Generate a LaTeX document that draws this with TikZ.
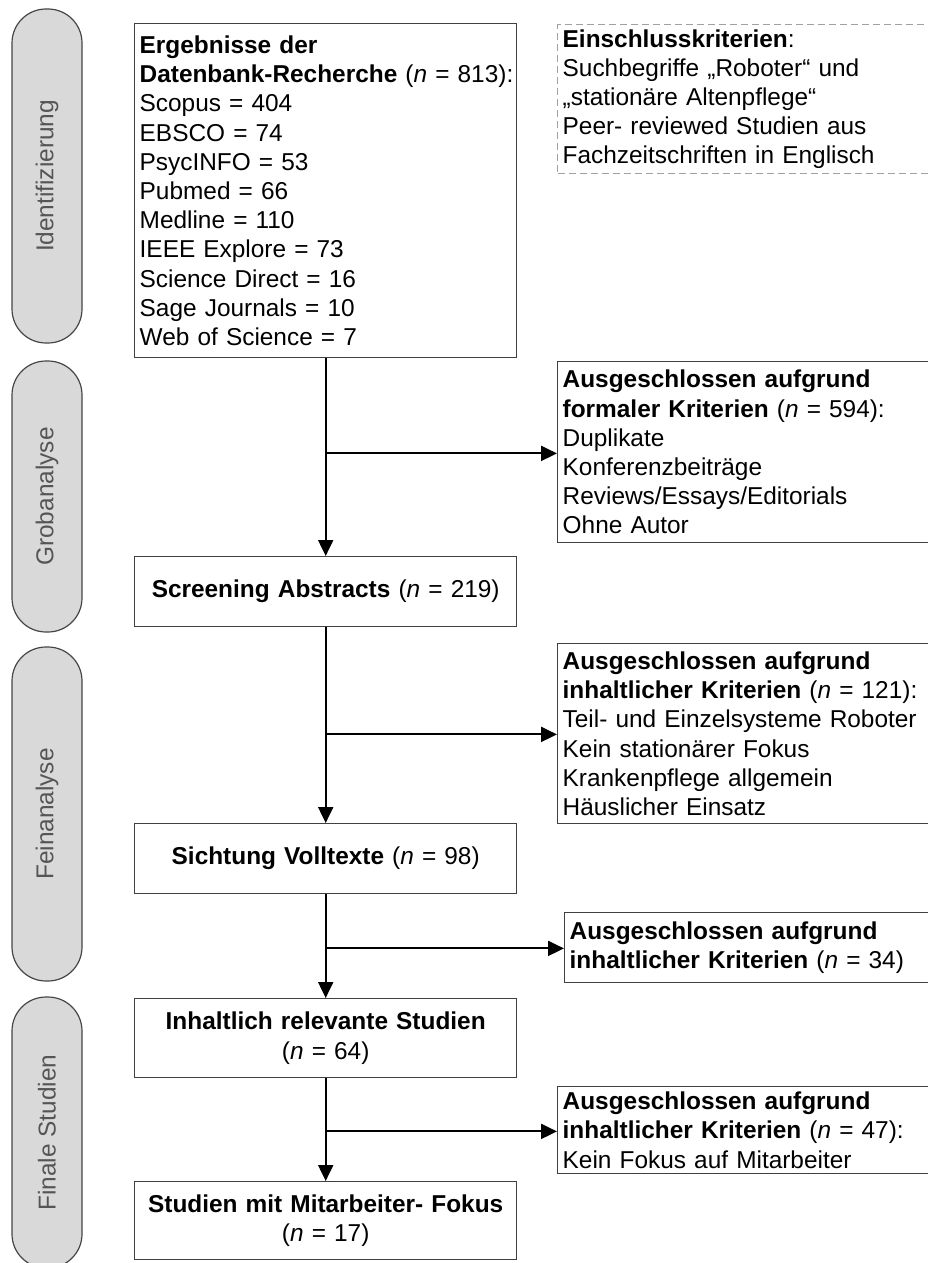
\documentclass[tikz,border=0pt]{standalone}
\usepackage{fontspec}
\setmainfont{Liberation Sans}
\usetikzlibrary{arrows.meta}
\definecolor{boxline}{RGB}{64,64,64}
\definecolor{pillfill}{RGB}{217,217,217}
\definecolor{pillline}{RGB}{70,70,70}
\definecolor{pilltext}{RGB}{85,85,85}
\definecolor{dashline}{RGB}{160,160,160}
\begin{document}
\begin{tikzpicture}[x=1pt,y=-1pt,
  font=\fontsize{24.4}{29.2}\selectfont,
  box/.style={draw=boxline, line width=1.4pt, rectangle, anchor=north west,
    inner xsep=5pt, inner ysep=0pt, align=left},
  lbox/.style={box, text width=372pt},
  rbox/.style={box, text width=368pt},
  pill/.style={draw=pillline, fill=pillfill, line width=1.2pt, rounded corners=34pt,
    minimum width=70pt, inner sep=0pt},
  plabel/.style={rotate=90, text=pilltext, inner sep=0pt},
  arr/.style={line width=2pt, -{Triangle[length=16pt,width=15pt]}}]
\useasboundingbox (0,0) rectangle (928,1263);
\clip (0,0) rectangle (928,1263);
% phase pills
\node[pill, minimum height=334pt] (p1) at (47,176) {};
\node[plabel] (l1) at (p1) {Identifizierung};
\node[pill, minimum height=271pt] (p2) at (47,496.5) {};
\node[plabel] (l2) at (p2) {Grobanalyse};
\node[pill, minimum height=334pt] (p3) at (47,814) {};
\node[plabel] (l3) at (p3) {Feinanalyse};
\node[pill, minimum height=271pt] (p4) at (47,1132.5) {};
\node[plabel] (l4) at (p4) {Finale Studien};
% main column
\node[lbox, minimum height=334pt] (m1) at (134,23) {\textbf{Ergebnisse der}\\
\mbox{\textbf{Datenbank-Recherche} (\textit{n} = 813):}\\
Scopus = 404\\
EBSCO = 74\\
PsycINFO = 53\\
Pubmed = 66\\
Medline = 110\\
IEEE Explore = 73\\
Science Direct = 16\\
Sage Journals = 10\\
Web of Science = 7};
\node[lbox, align=center, minimum height=70pt] (scr) at (134,556) {\textbf{Screening Abstracts} (\textit{n} = 219)};
\node[lbox, align=center, minimum height=70pt] (sich) at (134,823) {\textbf{Sichtung Volltexte} (\textit{n} = 98)};
\node[lbox, align=center, minimum height=79pt] (inh) at (134,998) {\textbf{Inhaltlich relevante Studien}\\(\textit{n} = 64)};
\node[lbox, align=center, minimum height=78pt] (stud) at (134,1181) {\textbf{Studien mit Mitarbeiter- Fokus}\\(\textit{n} = 17)};
% right column
\node[rbox, draw=dashline, dashed, dash pattern=on 7pt off 4pt, minimum height=149pt] (incl) at (557,24) {\textbf{Einschlusskriterien}:\\
Suchbegriffe „Roboter“ und\\
„stationäre Altenpflege“\\
Peer- reviewed Studien aus\\
Fachzeitschriften in Englisch};
\node[rbox, minimum height=181pt] (ex1) at (557,361) {\textbf{Ausgeschlossen aufgrund}\\
\mbox{\textbf{formaler Kriterien} (\textit{n} = 594):}\\
Duplikate\\
Konferenzbeiträge\\
Reviews/Essays/Editorials\\
Ohne Autor};
\node[rbox, minimum height=180pt] (ex2) at (557,643) {\textbf{Ausgeschlossen aufgrund}\\
\mbox{\textbf{inhaltlicher Kriterien} (\textit{n} = 121):}\\
\mbox{Teil- und Einzelsysteme Roboter}\\
Kein stationärer Fokus\\
Krankenpflege allgemein\\
Häuslicher Einsatz};
\node[box, text width=361pt, minimum height=70pt] (ex3) at (564,912) {\textbf{Ausgeschlossen aufgrund}\\
\mbox{\textbf{inhaltlicher Kriterien} (\textit{n} = 34)}};
\node[rbox, minimum height=87pt] (ex4) at (557,1086) {\textbf{Ausgeschlossen aufgrund}\\
\mbox{\textbf{inhaltlicher Kriterien} (\textit{n} = 47):}\\
Kein Fokus auf Mitarbeiter};
% main arrows
\draw[arr] (m1.south) -- (scr.north);
\draw[arr] (scr.south) -- (sich.north);
\draw[arr] (sich.south) -- (inh.north);
\draw[arr] (inh.south) -- (stud.north);
% branch arrows
\path (m1.south) ++(0,95) coordinate (b1);
\path (scr.south) ++(0,107) coordinate (b2);
\path (sich.south) ++(0,54) coordinate (b3);
\path (inh.south) ++(0,53) coordinate (b4);
\draw[arr] (b1) -- (b1 -| ex1.west);
\draw[arr] (b2) -- (b2 -| ex2.west);
\draw[arr] (b3) -- (b3 -| ex3.west);
\draw[arr] (b4) -- (b4 -| ex4.west);
\end{tikzpicture}
\end{document}
